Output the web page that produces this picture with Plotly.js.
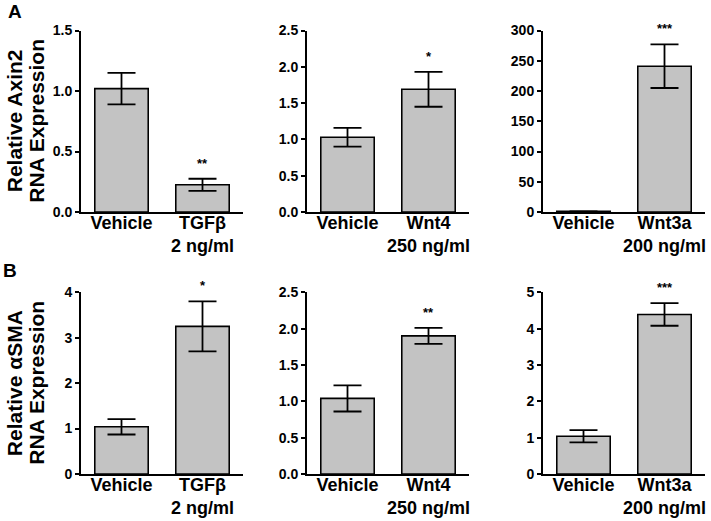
<!DOCTYPE html>
<html>
<head>
<meta charset="utf-8">
<script src="https://cdn.plot.ly/plotly-3.0.1.min.js"></script>
<style>html,body{margin:0;padding:0;background:#fff;}#chart{width:711px;height:521px;}</style>
</head>
<body>
<div id="chart"></div>
<script>
// ---- data ----
const catA1 = ['Vehicle', 'TGFβ<br>2 ng/ml'];
const valA1 = [1.02, 0.225];
const errA1 = [0.13, 0.05];
const starA1 = ['', '**'];

const catA2 = ['Vehicle', 'Wnt4<br>250 ng/ml'];
const valA2 = [1.03, 1.69];
const errA2 = [0.13, 0.24];
const starA2 = ['', '*'];

const catA3 = ['Vehicle', 'Wnt3a<br>200 ng/ml'];
const valA3 = [1.0, 241];
const errA3 = [0.1, 36];
const starA3 = ['', '***'];

const catB1 = ['Vehicle', 'TGFβ<br>2 ng/ml'];
const valB1 = [1.04, 3.25];
const errB1 = [0.17, 0.55];
const starB1 = ['', '*'];

const catB2 = ['Vehicle', 'Wnt4<br>250 ng/ml'];
const valB2 = [1.04, 1.90];
const errB2 = [0.18, 0.11];
const starB2 = ['', '**'];

const catB3 = ['Vehicle', 'Wnt3a<br>200 ng/ml'];
const valB3 = [1.04, 4.39];
const errB3 = [0.17, 0.31];
const starB3 = ['', '***'];

const yMax = [1.5, 2.5, 300, 4, 2.5, 5];
const yStep = [0.5, 0.5, 50, 1, 0.5, 1];
const yFmt = ['.1f', '.1f', 'd', 'd', '.1f', 'd'];
const rowTitles = [['Relative Axin2', 'RNA Expression'], ['Relative αSMA', 'RNA Expression']];
const panelLetters = ['A', 'B'];

// ---- layout helpers ----
const W = 711, H = 521;
const FONT = 'Liberation Sans, Arial, Helvetica, sans-serif';
const colPx = [[81, 243], [307, 469], [543, 705]];
const rowPx = [[30.5, 212], [292.3, 474]];

const panels = [
  [catA1, valA1, errA1, starA1],
  [catA2, valA2, errA2, starA2],
  [catA3, valA3, errA3, starA3],
  [catB1, valB1, errB1, starB1],
  [catB2, valB2, errB2, starB2],
  [catB3, valB3, errB3, starB3]
];

const traces = [];
const layout = {
  width: W, height: H,
  margin: {l: 0, r: 0, t: 0, b: 0},
  paper_bgcolor: '#fff', plot_bgcolor: '#fff',
  showlegend: false,
  font: {family: FONT, color: '#000'},
  annotations: []
};

panels.forEach((p, i) => {
  const [cats, vals, errs, stars] = p;
  const r = Math.floor(i / 3), c = i % 3;
  const n = i + 1;
  const xa = 'x' + (n === 1 ? '' : n), ya = 'y' + (n === 1 ? '' : n);
  traces.push({
    type: 'bar', x: cats, y: vals, xaxis: xa, yaxis: ya,
    width: 0.66,
    marker: {color: '#c3c3c3', line: {color: '#000', width: 1.6}},
    error_y: {type: 'data', array: errs, visible: true, color: '#000', thickness: 1.8, width: 14},
    hoverinfo: 'none'
  });
  layout['xaxis' + (n === 1 ? '' : n)] = {
    domain: [colPx[c][0] / W, colPx[c][1] / W],
    anchor: ya, type: 'category', range: [-0.5, 1.5],
    showline: true, linecolor: '#000', linewidth: 2,
    ticks: '', showgrid: false, zeroline: false,
    ticklabelstandoff: -7,
    tickfont: {family: FONT, size: 18, weight: 'bold', color: '#000'},
    fixedrange: true
  };
  layout['yaxis' + (n === 1 ? '' : n)] = {
    domain: [1 - rowPx[r][1] / H, 1 - rowPx[r][0] / H],
    anchor: xa, range: [0, yMax[i]], dtick: yStep[i], tick0: 0,
    tickformat: yFmt[i],
    showline: true, linecolor: '#000', linewidth: 2,
    ticks: 'outside', ticklen: 4, tickwidth: 2, tickcolor: '#000',
    showgrid: false, zeroline: false,
    tickfont: {family: FONT, size: 14, weight: 'bold', color: '#000'},
    fixedrange: true
  };
  stars.forEach((s, k) => {
    if (!s) return;
    layout.annotations.push({
      xref: xa, yref: ya, x: cats[k], y: vals[k] + errs[k],
      text: s, showarrow: false, yanchor: 'bottom', yshift: 6,
      font: {family: FONT, size: 13, weight: 'bold', color: '#000'}
    });
  });
});

// row titles and panel letters
rowTitles.forEach((lines, r) => {
  const cy = 1 - ((rowPx[r][0] + rowPx[r][1]) / 2) / H;
  [14, 36.5].forEach((xpx, k) => {
    layout.annotations.push({
      xref: 'paper', yref: 'paper', x: xpx / W, y: cy,
      xanchor: 'center', yanchor: 'middle', textangle: -90,
      text: lines[k], showarrow: false,
      font: {family: FONT, size: 21, weight: 'bold', color: '#000'}
    });
  });
});
[[15, 11], [10, 270]].forEach((pos, r) => {
  layout.annotations.push({
    xref: 'paper', yref: 'paper', x: pos[0] / W, y: 1 - pos[1] / H,
    xanchor: 'center', yanchor: 'middle', text: panelLetters[r], showarrow: false,
    font: {family: FONT, size: 19, weight: 'bold', color: '#000'}
  });
});

Plotly.newPlot('chart', traces, layout, {displayModeBar: false, staticPlot: true});
</script>
</body>
</html>
